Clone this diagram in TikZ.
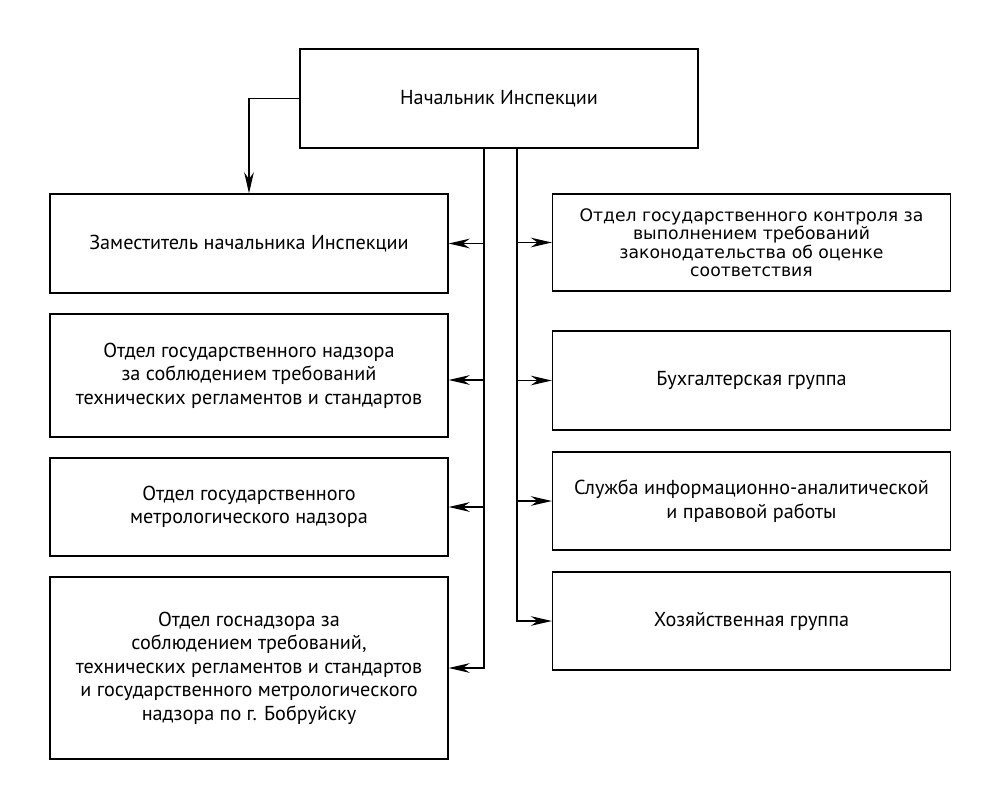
\documentclass[tikz,border=0pt]{standalone}
\usepackage{fontspec}
\setmainfont{PT Sans}
\newfontfamily\boxfont{DejaVu Sans}
\usepackage{tikz}
\usetikzlibrary{arrows.meta}
\tikzset{unit/.style={draw, rectangle, align=center, inner sep=0pt, minimum width=7.96cm, font=\fontsize{11.5}{13.4}\selectfont}}
\newcommand{\orgunit}[5][]{
	\node [unit, minimum height=#4, #1] (#2) at (#3) {#5};}

\begin{document}
\begin{tikzpicture}[x=0.02cm,y=-0.02cm,>={Stealth[length=12pt,width=5.5pt]},line width=0.75pt]
	\useasboundingbox (0,0) rectangle (1000,792);
	\orgunit{chief}{499,98.5}{1.98cm}{Начальник Инспекции}
	\orgunit{deputy}{249,243.5}{1.98cm}{Заместитель начальника Инспекции}
	\orgunit{techreg}{249,375.5}{2.46cm}{Отдел государственного надзора\\ за соблюдением требований\\ технических регламентов и стандартов}
	\orgunit{metrol}{249,507}{1.96cm}{Отдел государственного\\ метрологического надзора}
	\orgunit{bobr}{249,668}{3.64cm}{Отдел госнадзора за\\ соблюдением требований,\\ технических регламентов и стандартов\\ и государственного метрологического\\ надзора по г. Бобруйску}
	\orgunit[font=\boxfont\fontsize{9.8}{10.5}\selectfont]{conform}{751.5,242.5}{1.94cm}{Отдел государственного контроля за\\ выполнением требований\\ законодательства об оценке\\ соответствия}
	\orgunit{account}{751.5,380.5}{1.98cm}{Бухгалтерская группа}
	\orgunit{legal}{751.5,501}{1.96cm}{Служба информационно-аналитической\\ и правовой работы}
	\orgunit{supply}{751.5,621}{1.96cm}{Хозяйственная группа}
	% vertical buses
	\coordinate (lbus) at (484,148);
	\coordinate (rbus) at (517,148);
	\draw [->] (chief.west) -| (deputy.north);
	\draw [->] (lbus) |- (bobr.east);
	\draw [->] (rbus) |- (supply.west);
	\draw [->] (deputy.east -| lbus) -- (deputy.east);
	\draw [->] ([yshift=-0.09cm]techreg.east -| lbus) -- ([yshift=-0.09cm]techreg.east);
	\draw [->] (metrol.east -| lbus) -- (metrol.east);
	\draw [->] (conform.west -| rbus) -- (conform.west);
	\draw [->] (account.west -| rbus) -- (account.west);
	\draw [->] (legal.west -| rbus) -- (legal.west);
\end{tikzpicture}
\end{document}
